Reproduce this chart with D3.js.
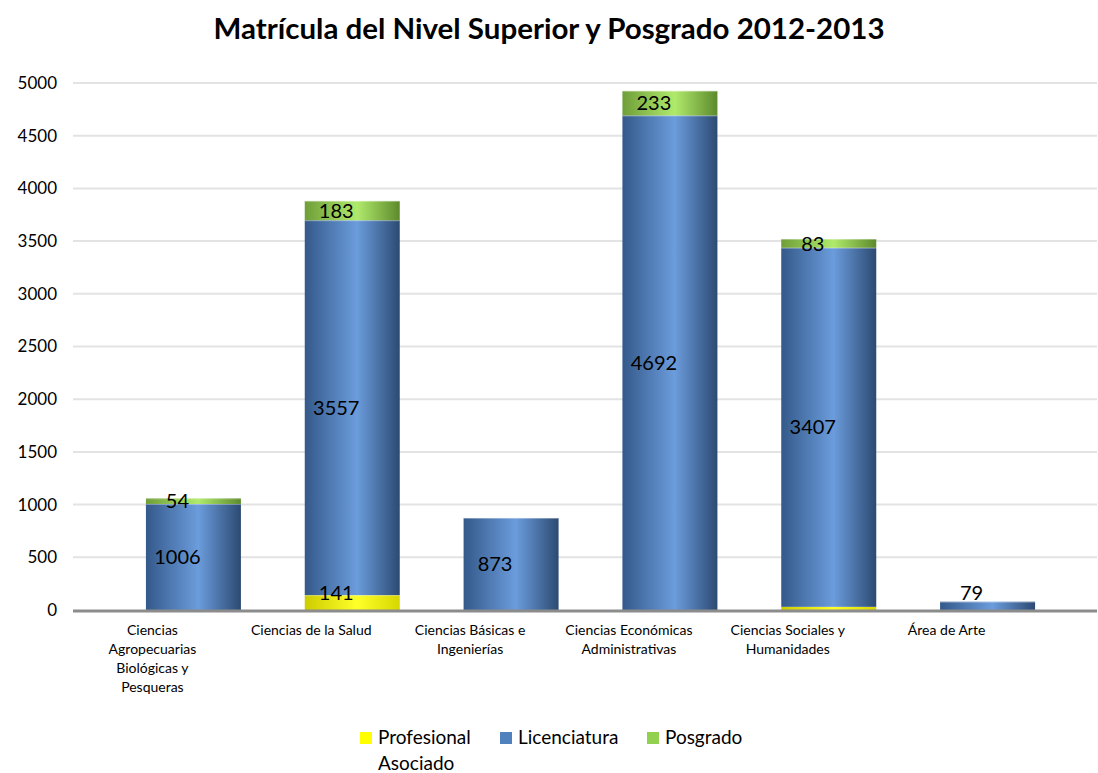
<!DOCTYPE html>
<html>
<head>
<meta charset="utf-8">
<script src="https://cdn.jsdelivr.net/npm/d3@7"></script>
<style>
  body { margin: 0; background: #fff; }
  svg text { font-family: Lato, "Open Sans", sans-serif; }
</style>
</head>
<body>
<div id="chart"></div>
<script>
// data
var categories = [
  ["Ciencias", "Agropecuarias", "Biológicas y", "Pesqueras"],
  ["Ciencias de la Salud"],
  ["Ciencias Básicas e", "Ingenierías"],
  ["Ciencias Económicas", "Administrativas"],
  ["Ciencias Sociales y", "Humanidades"],
  ["Área de Arte"]
];
var profesional = [0, 141, 0, 0, 30, 0];
var licenciatura = [1006, 3557, 873, 4692, 3407, 79];
var posgrado = [54, 183, 0, 233, 83, 0];
var yTicks = [0, 500, 1000, 1500, 2000, 2500, 3000, 3500, 4000, 4500, 5000];

var seriesNames = ["Profesional Asociado", "Licenciatura", "Posgrado"];
var seriesColors = [
  { id: "gYel", dark: "#cccc00", mid: "#ffff2a", edge: "#d6d600", solid: "#ffff00" },
  { id: "gBlu", dark: "#34598a", mid: "#6b9cdc", edge: "#2c4a72", solid: "#4f81bd" },
  { id: "gGrn", dark: "#6f9e38", mid: "#b0ea6c", edge: "#5d8a2c", solid: "#92d050" }
];

var svgWidth = 1098, svgHeight = 773;
var svg = d3.select("#chart").append("svg")
  .attr("width", svgWidth)
  .attr("height", svgHeight);

var defs = svg.append("defs");
seriesColors.forEach(function(c) {
  var g = defs.append("linearGradient").attr("id", c.id)
    .attr("x1", "0%").attr("x2", "100%").attr("y1", "0%").attr("y2", "0%");
  g.append("stop").attr("offset", "0%").attr("stop-color", c.dark);
  g.append("stop").attr("offset", "55%").attr("stop-color", c.mid);
  g.append("stop").attr("offset", "100%").attr("stop-color", c.edge);
});

// title
svg.append("text")
  .attr("x", 549).attr("y", 39)
  .attr("text-anchor", "middle")
  .attr("font-size", "28px")
  .attr("font-weight", "bold")
  .attr("textLength", 671)
  .attr("lengthAdjust", "spacingAndGlyphs")
  .text("Matrícula del Nivel Superior y Posgrado 2012-2013");

var plotLeft = 73, plotRight = 1097;
var y = d3.scaleLinear().domain([0, 5000]).range([610, 83]);
var x = d3.scaleBand().domain(d3.range(categories.length))
  .range([73, 1026]).paddingInner(0).paddingOuter(0);
var barW = 95, barShift = 41, labelShift = -16;

// gridlines
svg.append("g").selectAll("line")
  .data(yTicks.filter(function(t) { return t > 0; }))
  .enter().append("line")
  .attr("x1", plotLeft).attr("x2", plotRight)
  .attr("y1", function(d) { return y(d); })
  .attr("y2", function(d) { return y(d); })
  .attr("stroke", "#e3e3e3")
  .attr("stroke-width", 2);

// y axis labels
var yAxis = d3.axisLeft(y).tickValues(yTicks).tickSize(0).tickPadding(0)
  .tickFormat(d3.format("d"));
var ya = svg.append("g").attr("transform", "translate(57,0)").call(yAxis);
ya.select(".domain").remove();
ya.selectAll("text").attr("font-size", "17px").attr("fill", "#000")
  .attr("font-family", "Lato, sans-serif");

// stacked data
var rows = categories.map(function(c, i) {
  return { i: i, vals: [profesional[i], licenciatura[i], posgrado[i]] };
});
var stack = d3.stack().keys([0, 1, 2]).value(function(d, k) { return d.vals[k]; });
var layers = stack(rows);

layers.forEach(function(layer, k) {
  var g = svg.append("g");
  g.selectAll("rect").data(layer.filter(function(d) { return d[1] > d[0]; }))
    .enter().append("rect")
    .attr("x", function(d) { return x(d.data.i) + x.bandwidth() / 2 + barShift - barW / 2; })
    .attr("width", barW)
    .attr("y", function(d) { return y(d[1]); })
    .attr("height", function(d) { return y(d[0]) - y(d[1]); })
    .attr("fill", "url(#" + seriesColors[k].id + ")");
  // thin light top edge
  g.selectAll("line").data(layer.filter(function(d) { return d[1] - d[0] > 40; }))
    .enter().append("line")
    .attr("x1", function(d) { return x(d.data.i) + x.bandwidth() / 2 + barShift - barW / 2; })
    .attr("x2", function(d) { return x(d.data.i) + x.bandwidth() / 2 + barShift + barW / 2; })
    .attr("y1", function(d) { return y(d[1]) + 0.5; })
    .attr("y2", function(d) { return y(d[1]) + 0.5; })
    .attr("stroke", "#ffffff").attr("stroke-opacity", 0.35).attr("stroke-width", 1);
});

// data labels
layers.forEach(function(layer, k) {
  svg.append("g").selectAll("text")
    .data(layer.filter(function(d) { return d[1] - d[0] >= 50; }))
    .enter().append("text")
    .attr("x", function(d) { return x(d.data.i) + x.bandwidth() / 2 + barShift + labelShift; })
    .attr("y", function(d) { return Math.min((y(d[0]) + y(d[1])) / 2, y(0) - 17); })
    .attr("dy", "0.36em")
    .attr("text-anchor", "middle")
    .attr("font-size", "20px")
    .attr("fill", "#000")
    .text(function(d) { return d[1] - d[0]; });
});

// axis line
svg.append("line")
  .attr("x1", plotLeft).attr("x2", plotRight)
  .attr("y1", y(0) + 1).attr("y2", y(0) + 1)
  .attr("stroke", "#8c8c8c").attr("stroke-width", 3);

// category labels
var xl = svg.append("g").selectAll("text").data(categories).enter().append("text")
  .attr("text-anchor", "middle")
  .attr("font-size", "14px")
  .attr("fill", "#000")
  .attr("transform", function(d, i) { return "translate(" + (x(i) + x.bandwidth() / 2) + ",635)"; });
xl.selectAll("tspan").data(function(d) { return d; }).enter().append("tspan")
  .attr("x", 0)
  .attr("y", function(d, j) { return j * 19; })
  .text(function(d) { return d; });

// legend
var legendX = [360, 500, 647];
var leg = svg.append("g");
seriesNames.forEach(function(name, k) {
  leg.append("rect")
    .attr("x", legendX[k]).attr("y", 732)
    .attr("width", 12).attr("height", 12)
    .attr("fill", seriesColors[k].solid);
  var t = leg.append("text")
    .attr("x", legendX[k] + 18).attr("y", 744)
    .attr("font-size", "19px").attr("fill", "#000");
  if (k === 0) {
    t.append("tspan").attr("x", legendX[k] + 18).attr("y", 744).text("Profesional");
    t.append("tspan").attr("x", legendX[k] + 18).attr("y", 770).text("Asociado");
  } else {
    t.text(name);
  }
});
</script>
</body>
</html>
